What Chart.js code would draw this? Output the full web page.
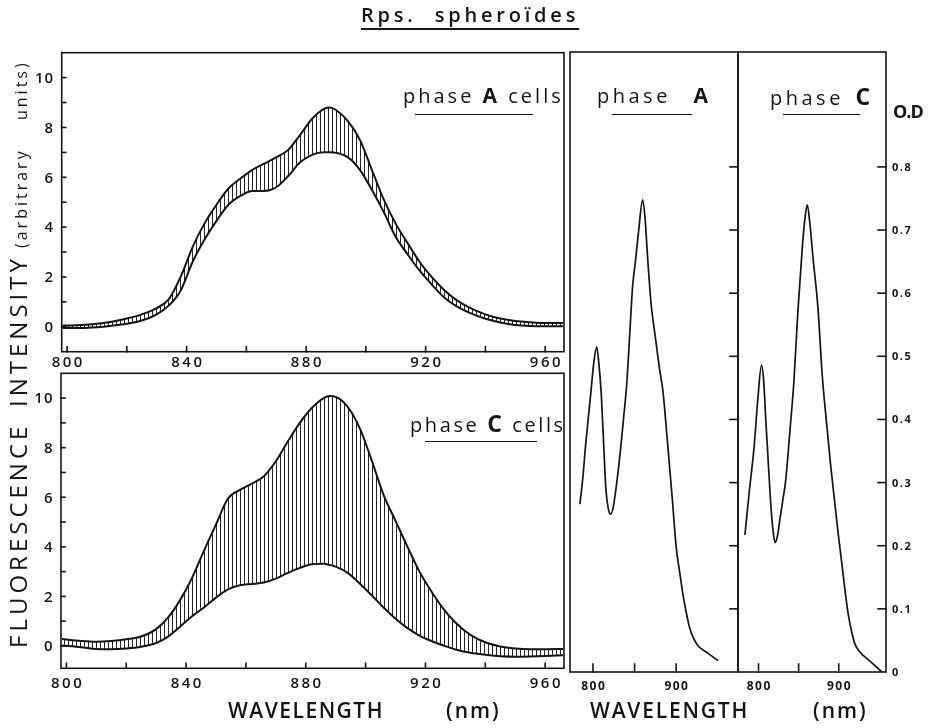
<!DOCTYPE html>
<html><head><meta charset="utf-8">
<script src="https://cdn.jsdelivr.net/npm/chart.js@4.4.1/dist/chart.umd.min.js"></script>
<style>
html,body{margin:0;padding:0;background:#fff;}
#wrap{position:relative;width:932px;height:728px;overflow:hidden;background:#fff;font-family:"Open Sans",sans-serif;color:#141414;}
canvas{position:absolute;left:0;top:0;}
.t{position:absolute;white-space:pre;line-height:1;}
.v{position:absolute;white-space:pre;line-height:1;transform-origin:0 0;transform:rotate(-90deg);}
.ul{position:absolute;height:0;border-top:1.6px solid #141414;}
</style></head><body>
<div id="wrap">
<canvas id="cFA" width="932" height="728"></canvas>
<canvas id="cFC" width="932" height="728"></canvas>
<canvas id="cAA" width="932" height="728"></canvas>
<canvas id="cAC" width="932" height="728"></canvas>

<div class="t" style="left:361px;top:5px;font-size:20px;letter-spacing:3.8px;font-weight:600;text-decoration:underline;text-decoration-thickness:1.6px;text-underline-offset:6px">Rps.  spheroïdes</div>

<div class="t" style="left:403px;top:85px;font-size:20px;letter-spacing:3px;font-weight:500">phase <b style="font-size:21px;font-weight:700">A</b> cells</div>
<div class="ul" style="left:415px;top:114px;width:118px"></div>

<div class="t" style="left:410px;top:412px;font-size:20px;letter-spacing:2.6px;font-weight:500">phase <b style="font-size:23px;font-weight:700">C</b> cells</div>
<div class="ul" style="left:425px;top:441px;width:112px"></div>

<div class="t" style="left:597px;top:85px;font-size:20px;letter-spacing:3.5px;font-weight:500">phase <b style="font-size:21px;font-weight:700;margin-left:14px">A</b></div>
<div class="ul" style="left:612px;top:114px;width:80px"></div>

<div class="t" style="left:770px;top:85px;font-size:20px;letter-spacing:3.5px;font-weight:500">phase <b style="font-size:23px;font-weight:700;margin-left:3px">C</b></div>
<div class="ul" style="left:783px;top:114px;width:77px"></div>

<div class="t" style="left:893px;top:102px;font-size:18px;font-weight:700;letter-spacing:-1px">O.D</div>

<div class="v" style="left:6px;top:648px;font-size:24px;letter-spacing:4px;font-weight:500">FLUORESCENCE</div>
<div class="v" style="left:6px;top:407px;font-size:24px;letter-spacing:4px;font-weight:500">INTENSITY</div>
<div class="v" style="left:13px;top:248px;font-size:16px;letter-spacing:3px;font-weight:500">(arbitrary</div>
<div class="v" style="left:13px;top:120px;font-size:16px;letter-spacing:3px;font-weight:500">units)</div>

<div class="t" style="left:228px;top:700px;font-size:21px;letter-spacing:1.5px;font-weight:600">WAVELENGTH</div>
<div class="t" style="left:446px;top:700px;font-size:21px;letter-spacing:2px;font-weight:600">(nm)</div>
<div class="t" style="left:590px;top:700px;font-size:21px;letter-spacing:1.8px;font-weight:600">WAVELENGTH</div>
<div class="t" style="left:813px;top:700px;font-size:21px;letter-spacing:2px;font-weight:600">(nm)</div>
</div>

<script>
// ---------- data ----------
const FL_WAVELENGTH = [798.5, 805, 810, 815, 820, 825, 830, 834, 838, 842, 846, 850, 854, 858, 862, 866, 870, 874, 878, 882, 886, 888, 890, 894, 898, 902, 906, 910, 914, 918, 922, 926, 930, 935, 940, 945, 950, 955, 960, 966];
const FL_A_UPPER = [0.05, 0.07, 0.12, 0.2, 0.33, 0.5, 0.75, 1.1, 2.0, 3.2, 4.15, 4.9, 5.55, 5.95, 6.3, 6.55, 6.8, 7.1, 7.7, 8.35, 8.75, 8.8, 8.7, 8.25, 7.5, 6.3, 5.1, 4.13, 3.35, 2.6, 2.0, 1.5, 1.1, 0.75, 0.5, 0.33, 0.23, 0.18, 0.15, 0.15];
const FL_A_LOWER = [-0.05, -0.05, -0.02, 0.04, 0.12, 0.25, 0.5, 0.85, 1.45, 2.6, 3.5, 4.25, 4.9, 5.25, 5.45, 5.45, 5.6, 6.05, 6.6, 6.9, 7.0, 7.0, 6.98, 6.8, 6.3, 5.5, 4.6, 3.6, 2.9, 2.25, 1.7, 1.2, 0.85, 0.55, 0.32, 0.17, 0.07, 0.03, 0.02, 0.02];
const FL_C_UPPER = [0.28, 0.2, 0.17, 0.2, 0.27, 0.38, 0.68, 1.15, 1.85, 2.75, 3.85, 4.9, 5.95, 6.3, 6.55, 6.85, 7.45, 8.25, 9.0, 9.6, 10.0, 10.08, 10.05, 9.65, 8.8, 7.5, 6.1, 5.05, 4.0, 3.0, 2.2, 1.5, 0.95, 0.45, 0.15, -0.02, -0.1, -0.13, -0.13, -0.12];
const FL_C_LOWER = [0.02, -0.05, -0.12, -0.13, -0.1, -0.03, 0.12, 0.38, 0.78, 1.2, 1.55, 1.95, 2.28, 2.45, 2.5, 2.56, 2.72, 2.95, 3.15, 3.3, 3.32, 3.27, 3.2, 2.95, 2.52, 2.05, 1.55, 1.1, 0.72, 0.42, 0.2, 0.02, -0.14, -0.27, -0.35, -0.41, -0.43, -0.42, -0.4, -0.37];

const ABS_A_WAVELENGTH = [784.3, 788, 791, 795, 798, 801, 804.5, 807, 810, 813, 815.5, 818.5, 821.4, 824.5, 827.4, 830.5, 833.5, 837, 840.5, 844, 847.6, 851, 855, 859.7, 862.5, 866, 869.8, 875, 880, 884, 890, 895, 900, 904, 908, 912, 916, 920, 926, 938, 950.4];
const ABS_A_OD = [0.266, 0.31, 0.357, 0.41, 0.45, 0.49, 0.515, 0.49, 0.44, 0.357, 0.29, 0.258, 0.25, 0.262, 0.288, 0.32, 0.357, 0.405, 0.455, 0.53, 0.61, 0.65, 0.7, 0.748, 0.72, 0.65, 0.584, 0.53, 0.48, 0.446, 0.357, 0.28, 0.198, 0.16, 0.124, 0.095, 0.071, 0.056, 0.042, 0.03, 0.018];
const ABS_C_WAVELENGTH = [783, 788, 794.5, 799, 803.7, 806.5, 809, 811, 815, 818, 820.6, 823.5, 827, 830, 833.9, 839, 844.2, 849, 854.6, 858, 860.8, 864, 868, 874, 879.4, 884, 889.7, 894, 898.8, 904, 908.3, 912, 916.6, 920, 924.8, 940, 953.8];
const ABS_C_OD = [0.217, 0.28, 0.357, 0.43, 0.486, 0.46, 0.4, 0.357, 0.27, 0.225, 0.205, 0.215, 0.245, 0.27, 0.304, 0.38, 0.462, 0.57, 0.673, 0.72, 0.74, 0.71, 0.655, 0.578, 0.47, 0.405, 0.33, 0.28, 0.225, 0.17, 0.124, 0.09, 0.061, 0.045, 0.034, 0.016, 0.0];

const FL_X_LABELS = [800, 840, 880, 920, 960];
const FL_X_MARKS = [800, 820, 840, 860, 880, 900, 920, 940, 960];
const FL_Y_LABELS = [0, 2, 4, 6, 8, 10];
const FL_Y_MARKS = [0, 1, 2, 3, 4, 5, 6, 7, 8, 9, 10];
const ABS_X_LABELS = [800, 900];
const ABS_X_MARKS = [800, 850, 900];
const OD_LABELS = [0, 0.1, 0.2, 0.3, 0.4, 0.5, 0.6, 0.7, 0.8];
const OD_MARKS = [0.1, 0.2, 0.3, 0.4, 0.5, 0.6, 0.7, 0.8];

// ---------- helpers ----------
const INK = '#141414';
const FONT = '"Open Sans", sans-serif';
const pts = (xs, ys) => xs.map((x, i) => ({x: x, y: ys[i]}));
const fixedAxis = size => s => { if (s.isHorizontal()) s.height = size; else s.width = size; };
const setTicks = vals => s => { s.ticks = vals.map(v => ({value: v, label: String(v)})); };

function hatch(period) {
  const c = document.createElement('canvas');
  c.width = period; c.height = 8;
  const x = c.getContext('2d');
  x.fillStyle = '#262626';
  x.fillRect(0, 0, 1, 8);
  return x.createPattern(c, 'repeat');
}

// draws text char by char from a left x, with explicit spacing (no reliance on textAlign)
function spacedWidth(ctx, txt, sp) {
  let w = 0;
  for (const ch of txt) w += ctx.measureText(ch).width + sp;
  return w - sp;
}
function spacedText(ctx, txt, x, y, sp) {
  for (const ch of txt) { ctx.fillText(ch, x, y); x += ctx.measureText(ch).width + sp; }
}

// frame, inward tick marks and tick labels drawn from the chart's own scales
const frame = {
  id: 'frame',
  afterDatasetsDraw(chart, args, o) {
    const {ctx, chartArea: a} = chart;
    ctx.save();
    ctx.strokeStyle = INK; ctx.lineWidth = 1.6; ctx.lineCap = 'square';
    ctx.strokeRect(a.left, a.top, a.right - a.left, a.bottom - a.top);
    (o.marks || []).forEach(m => {
      const s = chart.scales[m.axis];
      m.values.forEach(v => {
        const p = s.getPixelForValue(v);
        ctx.beginPath();
        if (m.side === 'bottom') { ctx.moveTo(p, a.bottom); ctx.lineTo(p, a.bottom - m.len); }
        else if (m.side === 'left') { ctx.moveTo(a.left, p); ctx.lineTo(a.left + m.len, p); }
        else { ctx.moveTo(a.right, p); ctx.lineTo(a.right - m.len, p); }
        ctx.stroke();
      });
    });
    ctx.fillStyle = INK;
    ctx.textBaseline = 'alphabetic';
    ctx.textAlign = 'left';
    (o.labels || []).forEach(l => {
      const s = chart.scales[l.axis];
      ctx.font = l.font;
      const sp = l.spacing || 0;
      s.ticks.forEach(t => {
        const p = s.getPixelForValue(t.value);
        const txt = l.format ? l.format(t.value) : String(t.value);
        const w = spacedWidth(ctx, txt, sp);
        if (l.side === 'bottom') spacedText(ctx, txt, p - w / 2, a.bottom + l.offset, sp);
        else if (l.side === 'left') spacedText(ctx, txt, a.left - l.offset - w, p + l.shift, sp);
        else spacedText(ctx, txt, a.right + l.offset, p + l.shift, sp);
      });
    });
    ctx.restore();
  }
};

const base = {responsive: false, animation: false, events: [], devicePixelRatio: 1};

function fluoChart(id, upper, lower, area, yMin, xLabOffset, period) {
  return new Chart(document.getElementById(id), {
    type: 'line',
    data: {datasets: [
      {data: pts(FL_WAVELENGTH, upper), borderColor: INK, borderWidth: 2, pointRadius: 0, fill: false, cubicInterpolationMode: 'monotone'},
      {data: pts(FL_WAVELENGTH, lower), borderColor: INK, borderWidth: 2, pointRadius: 0, fill: '-1', backgroundColor: hatch(period), cubicInterpolationMode: 'monotone'}
    ]},
    options: Object.assign({}, base, {
      layout: {padding: {left: area.l - 40, top: area.t, right: 932 - area.r, bottom: 728 - area.b - 25}},
      plugins: {legend: {display: false}, tooltip: {enabled: false},
        frame: {
          marks: [{axis: 'x', side: 'bottom', len: 5, values: FL_X_MARKS},
                  {axis: 'y', side: 'left', len: 4, values: FL_Y_MARKS}],
          labels: [{axis: 'x', side: 'bottom', offset: xLabOffset, spacing: 2.5, font: '600 15px ' + FONT},
                   {axis: 'y', side: 'left', offset: 8.5, shift: 5.3, spacing: 1, font: '600 15px ' + FONT}]
        }},
      scales: {
        x: {type: 'linear', min: 798.2, max: 966.3, grid: {display: false}, border: {display: false},
            afterFit: fixedAxis(25), afterBuildTicks: setTicks(FL_X_LABELS), ticks: {display: false}},
        y: {type: 'linear', min: yMin, max: 11, grid: {display: false}, border: {display: false},
            afterFit: fixedAxis(40), afterBuildTicks: setTicks(FL_Y_LABELS), ticks: {display: false}}
      }
    }),
    plugins: [frame]
  });
}

fluoChart('cFA', FL_A_UPPER, FL_A_LOWER, {l: 61.7, t: 52.7, r: 564, b: 351.7}, -1, 15, 4);
fluoChart('cFC', FL_C_UPPER, FL_C_LOWER, {l: 61, t: 373.3, r: 564, b: 668.3}, -0.9, 19.8, 4);

function absChart(id, xs, ys, area, xMin, xMax, showOD) {
  const marks = [{axis: 'x', side: 'bottom', len: 8, values: ABS_X_MARKS},
                 {axis: 'y', side: 'right', len: 8, values: OD_MARKS}];
  const labels = [{axis: 'x', side: 'bottom', offset: 17.5, spacing: 1.5, font: 'bold 12px ' + FONT}];
  if (showOD) labels.push({axis: 'y', side: 'right', offset: 6, shift: 4, spacing: 1.5, font: 'bold 11px ' + FONT,
                           format: v => v === 0 ? '0' : v.toFixed(1)});
  return new Chart(document.getElementById(id), {
    type: 'line',
    data: {datasets: [
      {data: pts(xs, ys), borderColor: INK, borderWidth: 1.7, pointRadius: 0, fill: false, cubicInterpolationMode: 'monotone'}
    ]},
    options: Object.assign({}, base, {
      layout: {padding: {left: area.l, top: area.t, right: 932 - area.r - (showOD ? 40 : 0), bottom: 728 - area.b - 25}},
      plugins: {legend: {display: false}, tooltip: {enabled: false}, frame: {marks: marks, labels: labels}},
      scales: {
        x: {type: 'linear', min: xMin, max: xMax, grid: {display: false}, border: {display: false},
            afterFit: fixedAxis(25), afterBuildTicks: setTicks(ABS_X_LABELS), ticks: {display: false}},
        y: {type: 'linear', position: 'right', display: showOD, min: 0, max: 0.982, grid: {display: false}, border: {display: false},
            afterFit: fixedAxis(showOD ? 40 : 0), afterBuildTicks: setTicks(OD_LABELS), ticks: {display: false}}
      }
    }),
    plugins: [frame]
  });
}

absChart('cAA', ABS_A_WAVELENGTH, ABS_A_OD, {l: 570, t: 52, r: 738, b: 672}, 772.4, 974.3, false);
absChart('cAC', ABS_C_WAVELENGTH, ABS_C_OD, {l: 738, t: 52, r: 886, b: 672}, 774.4, 958.9, true);
</script>
</body></html>
